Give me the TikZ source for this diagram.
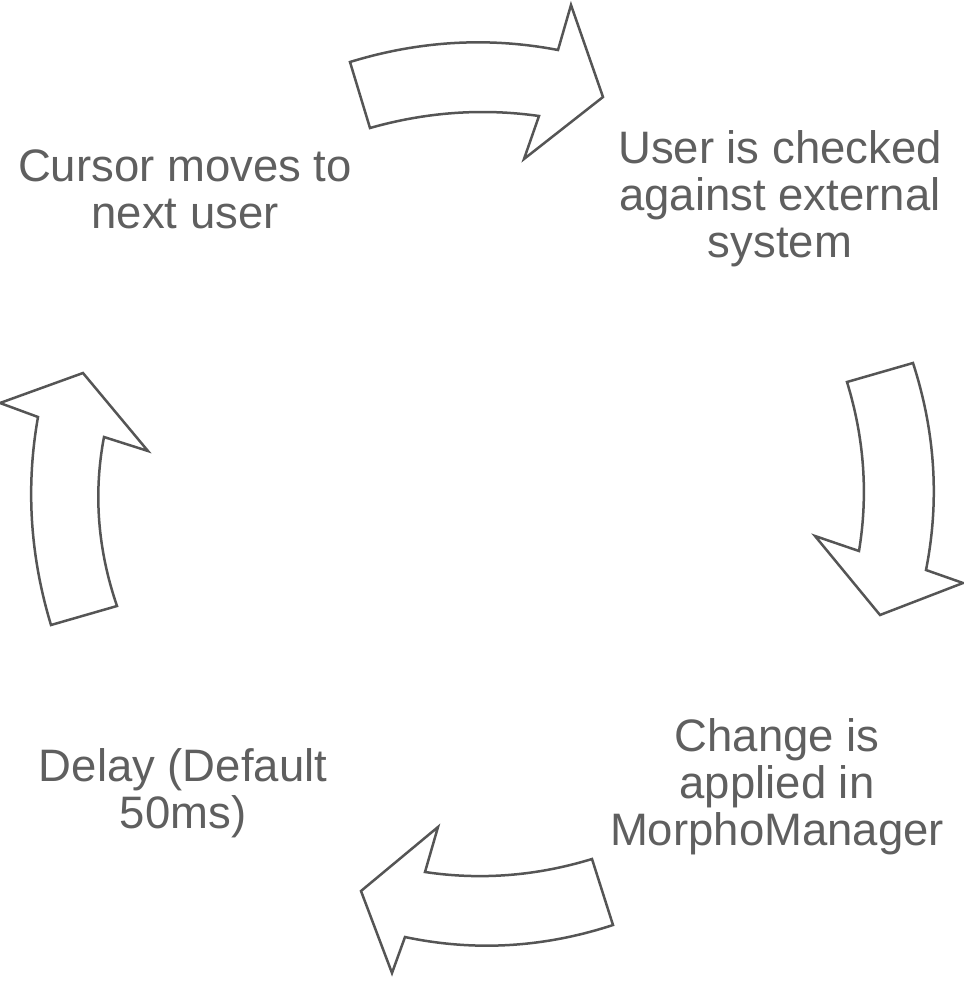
\documentclass[tikz,border=0pt]{standalone}
\usepackage{fontspec}
\setmainfont{Liberation Sans}
\usetikzlibrary{positioning}
\definecolor{txtgray}{RGB}{95,95,95}
\definecolor{arrgray}{RGB}{85,85,85}
\tikzset{lbl/.style={align=center,inner sep=0pt,anchor=base,text=txtgray,font=\fontsize{45.5}{47}\selectfont}}
\tikzset{arr/.style={draw=arrgray,line width=2.5pt,fill=white}}

\begin{document}
\begin{tikzpicture}[x=1pt,y=-1pt]
\useasboundingbox (0,0) rectangle (964,983);

% the four curved arrows
\draw[arr] (350,62) .. controls (419.3,40.7) and (488.7,36.7) .. (558,50) -- (571,5) -- (603,97)
  -- (524,159) -- (539,116) .. controls (482.7,108) and (426.3,112) .. (370,128) -- cycle;
\draw[arr] (913,363) .. controls (935.3,432) and (939.7,501) .. (926,570) -- (963,583) -- (880,615)
  -- (815,536) -- (859,551) .. controls (868.3,494.7) and (864.3,438.3) .. (847,382) -- cycle;
\draw[arr] (613,925) .. controls (543.7,947.7) and (474.3,951.7) .. (405,937) -- (392,973) -- (361,891)
  -- (438,827) -- (425,872) .. controls (480.7,880.3) and (536.3,876) .. (592,859) -- cycle;
\draw[arr] (51,625) .. controls (30,555.7) and (25.7,486.3) .. (38,417) -- (0,403) -- (83,373)
  -- (148,451) -- (104,437) .. controls (93.3,493.3) and (97.7,549.7) .. (117,606) -- cycle;

% steps (base = last line)
\node[lbl] (cur) at (185,228) {Cursor moves to\\next user};
\node[lbl] (chk) at (780,257) {User is checked\\against external\\system};
\node[lbl] (chg) at (777,845) {Change is\\applied in\\MorphoManager};
\node[lbl] (dly) at (183,828) {Delay (Default\\50ms)};
\end{tikzpicture}
\end{document}
